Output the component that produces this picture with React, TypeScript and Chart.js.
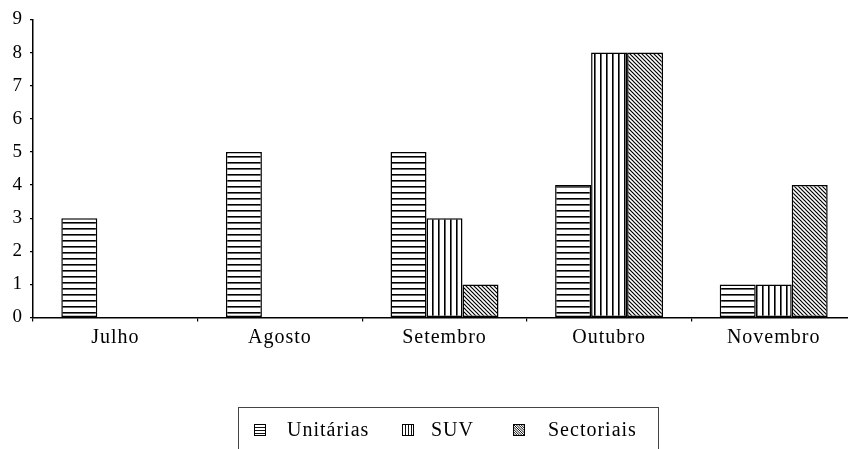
import React, { useEffect, useRef } from "react";
import { Chart, registerables } from "chart.js";

Chart.register(...registerables);

const categories = ["Julho", "Agosto", "Setembro", "Outubro", "Novembro"];
const seriesNames = ["Unitárias", "SUV", "Sectoriais"];
const unitarias = [3, 5, 5, 4, 1];
const suv = [0, 0, 3, 8, 1];
const sectoriais = [0, 0, 1, 8, 4];
const yTickValues = [0, 1, 2, 3, 4, 5, 6, 7, 8, 9];

const FONT = "'Liberation Serif', 'Times New Roman', serif";
const SPACING = "1px";

type Kind = "h" | "v" | "d";
const kinds: Kind[] = ["h", "v", "d"];

function makePattern(kind: Kind): CanvasPattern | string {
  const c = document.createElement("canvas");
  const w = kind === "d" ? 4 : 6;
  const h = kind === "d" ? 4 : 6;
  c.width = w;
  c.height = h;
  const g = c.getContext("2d");
  if (!g) return "#fff";
  g.fillStyle = "#fff";
  g.fillRect(0, 0, w, h);
  if (kind === "h") {
    g.fillStyle = "#000";
    g.fillRect(0, 0, w, 1);
    g.fillStyle = "rgba(0,0,0,0.6)";
    g.fillRect(0, 1, w, 1);
  } else if (kind === "v") {
    g.fillStyle = "#000";
    g.fillRect(0, 0, 1, h);
    g.fillStyle = "rgba(0,0,0,0.6)";
    g.fillRect(1, 0, 1, h);
  } else {
    g.strokeStyle = "#000";
    g.lineWidth = 1.2;
    for (const off of [-w, 0, w]) {
      g.beginPath();
      g.moveTo(off - 1, -1);
      g.lineTo(off + w + 1, h + 1);
      g.stroke();
    }
  }
  const p = g.createPattern(c, "repeat");
  return p || "#fff";
}

function drawIcon(ctx: CanvasRenderingContext2D, kind: Kind, x: number, y: number, s: number) {
  ctx.save();
  ctx.fillStyle = "#fff";
  ctx.fillRect(x, y, s, s);
  ctx.beginPath();
  ctx.rect(x, y, s, s);
  ctx.clip();
  ctx.strokeStyle = "#111";
  ctx.lineWidth = 1;
  ctx.beginPath();
  if (kind === "h") {
    for (let k = 1; k < 4; k++) {
      const yy = Math.round(y + (k * s) / 4) + 0.5;
      ctx.moveTo(x, yy);
      ctx.lineTo(x + s, yy);
    }
  } else if (kind === "v") {
    for (let k = 1; k < 4; k++) {
      const xx = Math.round(x + (k * s) / 4) + 0.5;
      ctx.moveTo(xx, y);
      ctx.lineTo(xx, y + s);
    }
  } else {
    for (let k = -s; k <= s; k += 2.4) {
      ctx.moveTo(x + k, y);
      ctx.lineTo(x + k + s, y + s);
    }
  }
  ctx.stroke();
  ctx.restore();
  ctx.save();
  ctx.strokeStyle = "#000";
  ctx.lineWidth = 1;
  ctx.strokeRect(x + 0.5, y + 0.5, s - 1, s - 1);
  ctx.restore();
}

const spacingPlugin = {
  id: "letterSpacing",
  beforeUpdate(chart: any) {
    chart.ctx.letterSpacing = SPACING;
  },
  beforeDraw(chart: any) {
    chart.ctx.letterSpacing = SPACING;
  },
};

const boxLegendPlugin = {
  id: "boxLegend",
  afterDraw(chart: any) {
    const { ctx, chartArea } = chart;
    const boxW = 420;
    const boxL = Math.round((chartArea.left + chartArea.right) / 2 - boxW / 2 + 3.5);
    const boxT = 407;
    const rowY = 430;
    const iconOffsets = [16, 164, 275];
    const textGap = [33, 29, 35];
    ctx.save();
    ctx.letterSpacing = SPACING;
    ctx.strokeStyle = "#444";
    ctx.lineWidth = 1;
    ctx.strokeRect(boxL + 0.5, boxT + 0.5, boxW, 80);
    chart.data.datasets.forEach((ds: any, i: number) => {
      const ix = boxL + iconOffsets[i];
      drawIcon(ctx, kinds[i], ix, rowY - 6, 12);
      ctx.fillStyle = "#000";
      ctx.font = `20px ${FONT}`;
      ctx.textBaseline = "middle";
      ctx.textAlign = "left";
      ctx.fillText(ds.label, ix + textGap[i], rowY + 1);
    });
    ctx.restore();
  },
};

export default function App() {
  const ref = useRef<HTMLCanvasElement | null>(null);

  useEffect(() => {
    if (!ref.current) return;
    const patterns = kinds.map((k) => makePattern(k));
    const values = [unitarias, suv, sectoriais];
    const chart = new Chart(ref.current, {
      type: "bar",
      data: {
        labels: categories,
        datasets: seriesNames.map((name, i) => ({
          label: name,
          data: values[i],
          backgroundColor: patterns[i] as any,
          borderColor: "#000",
          borderWidth: 1.5,
          borderSkipped: false,
          barPercentage: 1,
          categoryPercentage: 0.656,
        })),
      },
      options: {
        responsive: false,
        animation: false,
        devicePixelRatio: 1,
        layout: { padding: { top: 19.5, left: 0, right: 0, bottom: 0 } },
        plugins: {
          legend: { display: false },
          tooltip: { enabled: false },
        },
        scales: {
          x: {
            offset: true,
            grid: {
              offset: true,
              drawOnChartArea: false,
              drawTicks: true,
              tickLength: 4,
              color: "#000",
              lineWidth: 1.2,
            },
            border: { display: true, color: "#000", width: 1.5 },
            ticks: {
              color: "#000",
              padding: 4,
              font: { family: FONT, size: 20 },
              maxRotation: 0,
            },
            afterFit(scale: any) {
              scale.height = 131.5;
            },
          },
          y: {
            min: 0,
            max: 9,
            afterBuildTicks(scale: any) {
              scale.ticks = yTickValues.map((v) => ({ value: v }));
            },
            grid: {
              drawOnChartArea: false,
              drawTicks: true,
              tickLength: 3,
              color: "#000",
              lineWidth: 1.2,
            },
            border: { display: true, color: "#000", width: 1.5 },
            ticks: {
              color: "#000",
              padding: 7,
              font: { family: FONT, size: 19 },
              stepSize: 1,
            },
            afterFit(scale: any) {
              scale.width = 33;
            },
          },
        },
      },
      plugins: [spacingPlugin, boxLegendPlugin],
    });
    return () => chart.destroy();
  }, []);

  return (
    <div
      style={{
        position: "fixed",
        left: 0,
        top: 0,
        width: 848,
        height: 449,
        overflow: "hidden",
        background: "#fff",
      }}
    >
      <canvas
        ref={ref}
        width={856}
        height={449}
        style={{ width: 856, height: 449, display: "block" }}
      />
    </div>
  );
}
